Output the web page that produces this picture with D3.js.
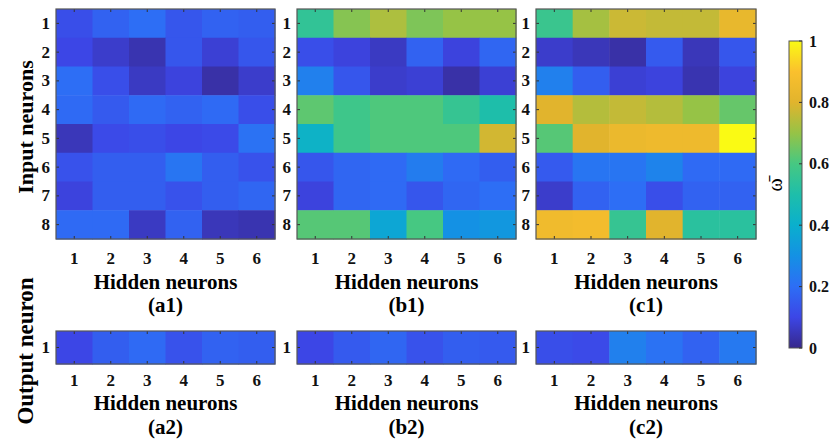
<!DOCTYPE html>
<html lang="en">
  <head>
    <meta charset="utf-8">
    <title>Weight heatmaps</title>
    <script src="https://d3js.org/d3.v7.min.js"></script>
    <style>
      body { margin: 0; background: #fff; }
      svg text { font-family: "Liberation Serif", "Times New Roman", serif; }
    </style>
  </head>
  <body>
    <div id="chart"></div>
    <script>
      // ---- data ----
      var hidden = [1, 2, 3, 4, 5, 6];
      var inputs = [1, 2, 3, 4, 5, 6, 7, 8];
      var outputs = [1];
      var cbarTicks = [0, 0.2, 0.4, 0.6, 0.8, 1];

      // input -> hidden, rows = input neuron, cols = hidden neuron
      var a1 = [
        [0.12, 0.17, 0.20, 0.14, 0.17, 0.16],
        [0.10, 0.07, 0.04, 0.14, 0.08, 0.14],
        [0.20, 0.12, 0.06, 0.09, 0.03, 0.07],
        [0.19, 0.15, 0.19, 0.17, 0.19, 0.12],
        [0.05, 0.11, 0.12, 0.10, 0.11, 0.21],
        [0.13, 0.16, 0.16, 0.22, 0.16, 0.13],
        [0.09, 0.16, 0.16, 0.13, 0.16, 0.18],
        [0.19, 0.19, 0.06, 0.17, 0.05, 0.04]
      ];
      var b1 = [
        [0.55, 0.68, 0.73, 0.67, 0.70, 0.70],
        [0.12, 0.09, 0.06, 0.17, 0.09, 0.18],
        [0.25, 0.14, 0.07, 0.08, 0.03, 0.08],
        [0.63, 0.58, 0.61, 0.61, 0.56, 0.50],
        [0.42, 0.58, 0.61, 0.61, 0.61, 0.78],
        [0.14, 0.18, 0.19, 0.24, 0.19, 0.16],
        [0.09, 0.18, 0.19, 0.14, 0.18, 0.20],
        [0.62, 0.62, 0.37, 0.60, 0.30, 0.32]
      ];
      var c1 = [
        [0.57, 0.72, 0.77, 0.76, 0.76, 0.83],
        [0.07, 0.05, 0.03, 0.15, 0.05, 0.14],
        [0.25, 0.16, 0.08, 0.09, 0.04, 0.09],
        [0.80, 0.74, 0.76, 0.74, 0.70, 0.64],
        [0.62, 0.80, 0.84, 0.85, 0.85, 1.00],
        [0.15, 0.22, 0.22, 0.26, 0.19, 0.19],
        [0.07, 0.17, 0.20, 0.12, 0.17, 0.17],
        [0.86, 0.87, 0.56, 0.80, 0.53, 0.53]
      ];
      // hidden -> output
      var a2 = [[0.10, 0.16, 0.19, 0.13, 0.17, 0.16]];
      var b2 = [[0.10, 0.15, 0.18, 0.13, 0.16, 0.15]];
      var c2 = [[0.12, 0.11, 0.25, 0.21, 0.17, 0.23]];

      // parula-like colour map, matched to the figure's colour bar
      var cmap = [
        [55, 40, 140], [60, 70, 230], [45, 110, 245], [20, 145, 228],
        [10, 175, 205], [30, 190, 170], [70, 200, 130], [150, 195, 70],
        [225, 180, 45], [250, 192, 45], [250, 250, 20]
      ];

      var W = 832, H = 439;
      var svg = d3.select("#chart").append("svg").attr("width", W).attr("height", H);

      var color = d3.scaleLinear()
        .domain(cmap.map(function (d, i) { return i / (cmap.length - 1); }))
        .range(cmap.map(function (c) { return d3.rgb(c[0], c[1], c[2]); }))
        .interpolate(d3.interpolateRgb)
        .clamp(true);

      var colX = { a: [56, 275], b: [297, 516], c: [536, 756] };
      var topY = [9, 239], botY = [331, 364];
      var tickFont = "17px", titleFont = "21px";

      function heatmap(key, mat, rows, yr, suffix) {
        var top = suffix === "1";
        var x = d3.scaleBand().domain(hidden).range(colX[key]);
        var y = d3.scaleBand().domain(rows).range(yr);
        var g = svg.append("g");
        var cells = [];
        mat.forEach(function (row, i) {
          row.forEach(function (v, j) { cells.push({ r: rows[i], c: hidden[j], v: v }); });
        });
        g.selectAll("rect.cell").data(cells).enter().append("rect")
          .attr("class", "cell")
          .attr("x", function (d) { return x(d.c); })
          .attr("y", function (d) { return y(d.r); })
          .attr("width", x.bandwidth() + 0.5)
          .attr("height", y.bandwidth() + 0.5)
          .attr("fill", function (d) { return color(d.v); });

        // little inward ticks, matlab style
        var tk = g.append("g").attr("stroke", "#333").attr("stroke-width", 1);
        hidden.forEach(function (h) {
          var cx = x(h) + x.bandwidth() / 2;
          tk.append("line").attr("x1", cx).attr("x2", cx).attr("y1", yr[0]).attr("y2", yr[0] + 3);
          tk.append("line").attr("x1", cx).attr("x2", cx).attr("y1", yr[1]).attr("y2", yr[1] - 3);
        });
        rows.forEach(function (r) {
          var cy = y(r) + y.bandwidth() / 2;
          tk.append("line").attr("y1", cy).attr("y2", cy).attr("x1", colX[key][0]).attr("x2", colX[key][0] + 3);
          tk.append("line").attr("y1", cy).attr("y2", cy).attr("x1", colX[key][1]).attr("x2", colX[key][1] - 3);
        });

        g.append("rect")
          .attr("x", colX[key][0]).attr("y", yr[0])
          .attr("width", colX[key][1] - colX[key][0]).attr("height", yr[1] - yr[0])
          .attr("fill", "none").attr("stroke", "#555").attr("stroke-width", 1.2);

        var ax = g.append("g").attr("transform", "translate(0," + yr[1] + ")")
          .call(d3.axisBottom(x).tickSize(0).tickPadding(top ? 13 : 10));
        var ay = g.append("g").attr("transform", "translate(" + colX[key][0] + ",0)")
          .call(d3.axisLeft(y).tickSize(0).tickPadding(6));
        [ax, ay].forEach(function (a) {
          a.select(".domain").remove();
          a.selectAll("text").attr("font-size", tickFont).attr("font-weight", "bold")
            .attr("fill", "#111").style("font-family", "'Liberation Serif', serif");
        });

        var cx = (colX[key][0] + colX[key][1]) / 2;
        g.append("text").attr("x", cx).attr("y", yr[1] + (top ? 50 : 46))
          .attr("text-anchor", "middle").attr("font-size", titleFont).attr("font-weight", "bold")
          .text("Hidden neurons");
        g.append("text").attr("x", cx).attr("y", yr[1] + (top ? 73 : 70))
          .attr("text-anchor", "middle").attr("font-size", titleFont).attr("font-weight", "bold")
          .text("(" + key + suffix + ")");
      }

      heatmap("a", a1, inputs, topY, "1");
      heatmap("b", b1, inputs, topY, "1");
      heatmap("c", c1, inputs, topY, "1");
      heatmap("a", a2, outputs, botY, "2");
      heatmap("b", b2, outputs, botY, "2");
      heatmap("c", c2, outputs, botY, "2");

      svg.append("text").attr("transform", "translate(25,127) rotate(-90)")
        .attr("text-anchor", "middle").attr("dominant-baseline", "central")
        .attr("font-size", "22px").attr("font-weight", "bold").text("Input neurons");
      svg.append("text").attr("transform", "translate(25,351) rotate(-90)")
        .attr("text-anchor", "middle").attr("dominant-baseline", "central")
        .attr("font-size", "23px").attr("font-weight", "bold").text("Output neuron");

      // colour bar
      var cb = { x: 789, w: 13, top: 41, bot: 348 };
      var cy = d3.scaleLinear().domain([0, 1]).range([cb.bot, cb.top]);
      var defs = svg.append("defs");
      var grad = defs.append("linearGradient").attr("id", "cbar")
        .attr("x1", 0).attr("y1", 1).attr("x2", 0).attr("y2", 0);
      d3.range(0, 1.0001, 0.02).forEach(function (t) {
        grad.append("stop").attr("offset", t).attr("stop-color", color(t));
      });
      svg.append("rect").attr("x", cb.x).attr("y", cb.top)
        .attr("width", cb.w).attr("height", cb.bot - cb.top)
        .attr("fill", "url(#cbar)").attr("stroke", "#555").attr("stroke-width", 1);
      var cax = svg.append("g").attr("transform", "translate(" + (cb.x + cb.w) + ",0)")
        .call(d3.axisRight(cy).tickValues(cbarTicks).tickSize(0).tickPadding(7)
          .tickFormat(function (d) { return String(d); }));
      cax.select(".domain").remove();
      cax.selectAll("text").attr("font-size", "16px").attr("font-weight", "bold")
        .attr("fill", "#111").style("font-family", "'Liberation Serif', serif");
      cbarTicks.forEach(function (t) {
        svg.append("line").attr("x1", cb.x + cb.w).attr("x2", cb.x + cb.w - 3)
          .attr("y1", cy(t)).attr("y2", cy(t)).attr("stroke", "#333");
      });
      svg.append("text").attr("transform", "translate(775,185) rotate(-90)")
        .attr("text-anchor", "middle").attr("dominant-baseline", "central")
        .attr("font-size", "20px").text("\u03C9\u0304");
    </script>
  </body>
</html>
